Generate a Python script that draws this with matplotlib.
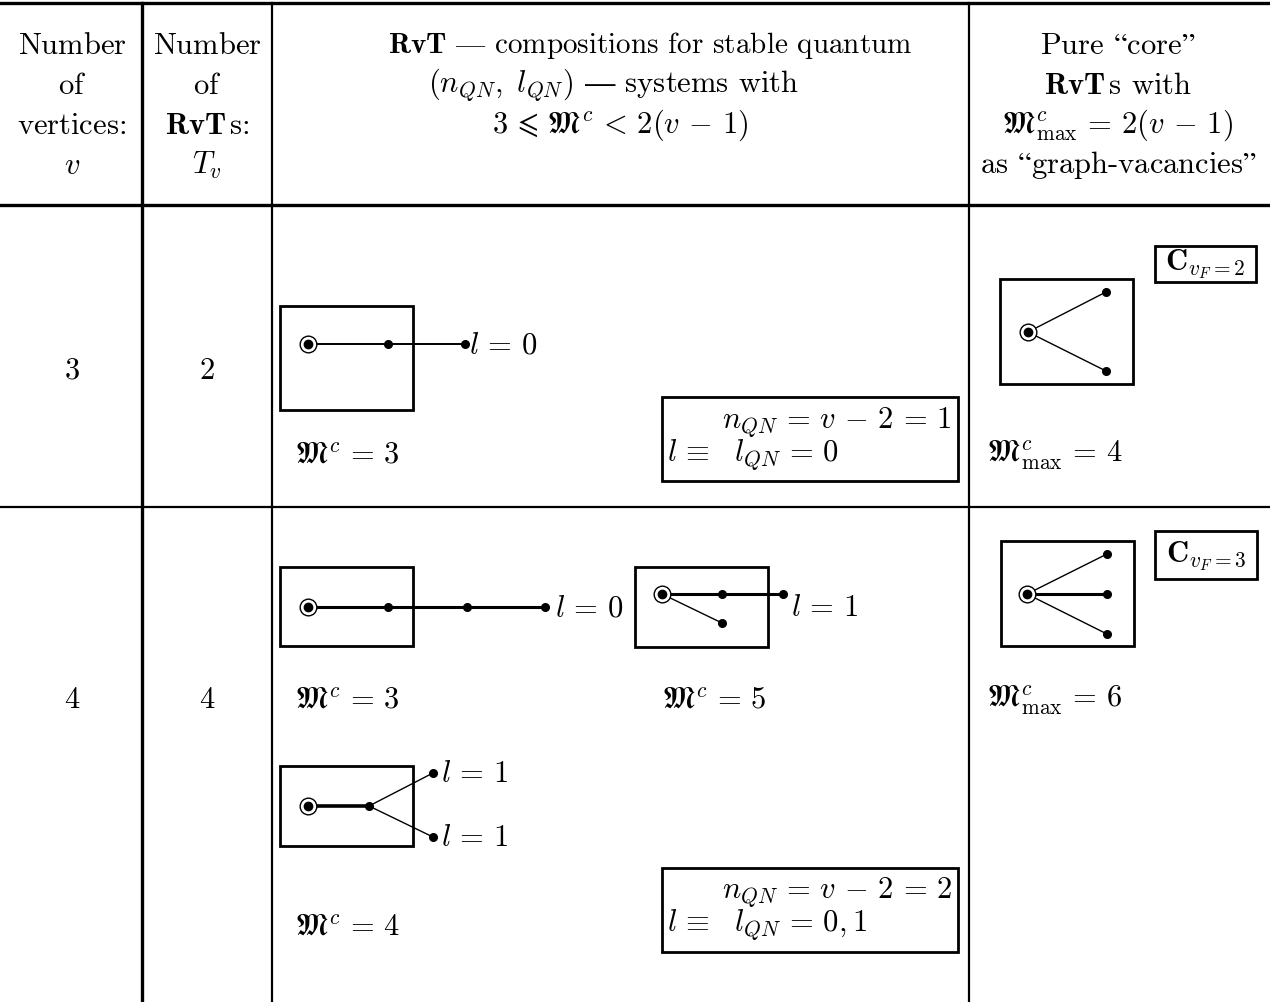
import matplotlib
matplotlib.use('Agg')
import matplotlib.pyplot as plt
from matplotlib.patches import Rectangle

plt.rcParams['mathtext.fontset'] = 'cm'

# table data
v_values = [3, 4]
tv_values = [2, 4]
mc_row3 = [3]
mc_row4 = [3, 5, 4]
mc_max = [4, 6]
n_qn = [1, 2]
l_qn = ['0', '0,1']
vf = [2, 3]

FS = 22
EQ = r'\,=\,'
MINUS = r'\,-\,'


def rm(s):
    return r'$\text{' + s + '}$'


def txt(x, y, s, ha='center', fs=FS):
    ax.text(x, y, s, ha=ha, va='center', fontsize=fs)


def box(x0, y0, x1, y1, lw=2.0):
    ax.add_patch(Rectangle((x0, y0), x1 - x0, y1 - y0, fill=False, lw=lw, ec='black'))


def edge(p, q, lw=1.0):
    ax.plot([p[0], q[0]], [p[1], q[1]], color='black', lw=lw, solid_capstyle='butt')


def dot(p):
    ax.plot(p[0], p[1], 'o', color='black', ms=5.5)


def root(p):
    ax.plot(p[0], p[1], 'o', mfc='white', mec='black', mew=1.0, ms=12)
    ax.plot(p[0], p[1], 'o', color='black', ms=6)


fig = plt.figure(figsize=(12.7, 10.03), dpi=100)
ax = fig.add_axes([0, 0, 1, 1])
ax.set_xlim(0, 1270)
ax.set_ylim(1003, 0)
ax.axis('off')

# table rules
ax.plot([0, 1270], [4, 4], color='black', lw=2.4)
ax.plot([0, 1270], [206, 206], color='black', lw=2.4)
ax.plot([0, 1270], [508, 508], color='black', lw=1.6)
ax.plot([142, 142], [4, 1003], color='black', lw=2.4)
ax.plot([272, 272], [4, 1003], color='black', lw=1.6)
ax.plot([969, 969], [4, 1003], color='black', lw=1.6)

# header
for i, s in enumerate([rm('Number'), rm('of'), rm('vertices:'), r'$v$']):
    txt(72, 45 + 40 * i, s)
for i, s in enumerate([rm('Number'), rm('of'), r'$\mathbf{RvT}\,\text{s:}$', r'$T_v$']):
    txt(207, 45 + 40 * i, s)
txt(650, 45, r'$\mathbf{RvT}\text{ — compositions for stable quantum}$', fs=21)
txt(613, 85, r'$(n_{QN},\ l_{QN})\text{ — systems with}$')
txt(620, 125, r'$3\,\leqslant\,\mathfrak{M}^c\,<\,2(v' + MINUS + '1)$')
txt(1118, 45, rm('Pure “core”'))
txt(1118, 85, r'$\mathbf{RvT}\,\text{s with}$')
txt(1118, 125, r'$\mathfrak{M}^c_{\mathrm{max}}' + EQ + r'2(v' + MINUS + '1)$')
txt(1118, 165, rm('as “graph-vacancies”'))

# row v = 3
txt(72, 370, r'$%d$' % v_values[0])
txt(207, 370, r'$%d$' % tv_values[0])
box(280, 307, 413, 411)
edge((308, 345), (465, 345), lw=1.4)
root((308, 345)); dot((388, 345)); dot((465, 345))
txt(469, 345, r'$l' + EQ + '0$', ha='left')
txt(295, 455, r'$\mathfrak{M}^c' + EQ + '%d$' % mc_row3[0], ha='left')
box(662, 398, 958, 482)
txt(952, 422, r'$n_{QN}' + EQ + r'v' + MINUS + '2' + EQ + '%d$' % n_qn[0], ha='right')
txt(667, 455, r'$l\,\equiv\,\;\;l_{QN}' + EQ + '%s$' % l_qn[0], ha='left')
box(1000, 280, 1133, 385)
edge((1028, 333), (1106, 293)); edge((1028, 333), (1106, 372))
root((1028, 333)); dot((1106, 293)); dot((1106, 372))
box(1155, 247, 1256, 283)
txt(1205, 264, r'$\mathbf{C}_{v_F=%d}$' % vf[0])
txt(987, 455, r'$\mathfrak{M}^c_{\mathrm{max}}' + EQ + '%d$' % mc_max[0], ha='left')

# row v = 4
txt(72, 700, r'$%d$' % v_values[1])
txt(207, 700, r'$%d$' % tv_values[1])
box(280, 568, 413, 647)
edge((308, 608), (545, 608), lw=2.2)
root((308, 608))
for x in (388, 467, 545):
    dot((x, 608))
txt(555, 608, r'$l' + EQ + '0$', ha='left')
box(635, 568, 768, 648)
edge((662, 595), (783, 595), lw=2.2)
edge((662, 595), (722, 624), lw=1.0)
root((662, 595)); dot((722, 595)); dot((783, 595)); dot((722, 624))
txt(791, 608, r'$l' + EQ + '1$', ha='left')
txt(295, 700, r'$\mathfrak{M}^c' + EQ + '%d$' % mc_row4[0], ha='left')
txt(662, 700, r'$\mathfrak{M}^c' + EQ + '%d$' % mc_row4[1], ha='left')
box(280, 767, 413, 847)
edge((308, 807), (369, 807), lw=2.6)
edge((369, 807), (433, 774)); edge((369, 807), (433, 838))
root((308, 807)); dot((369, 807)); dot((433, 774)); dot((433, 838))
txt(441, 774, r'$l' + EQ + '1$', ha='left')
txt(441, 838, r'$l' + EQ + '1$', ha='left')
txt(295, 927, r'$\mathfrak{M}^c' + EQ + '%d$' % mc_row4[2], ha='left')
box(662, 869, 958, 953)
txt(952, 892, r'$n_{QN}' + EQ + r'v' + MINUS + '2' + EQ + '%d$' % n_qn[1], ha='right')
txt(667, 925, r'$l\,\equiv\,\;\;l_{QN}' + EQ + '%s$' % l_qn[1], ha='left')
box(1001, 542, 1134, 647)
edge((1027, 595), (1107, 555)); edge((1027, 595), (1107, 595), lw=2.2)
edge((1027, 595), (1107, 635))
root((1027, 595))
for y in (555, 595, 635):
    dot((1107, y))
box(1155, 532, 1257, 580)
txt(1206, 556, r'$\mathbf{C}_{v_F=%d}$' % vf[1])
txt(987, 700, r'$\mathfrak{M}^c_{\mathrm{max}}' + EQ + '%d$' % mc_max[1], ha='left')

fig.savefig('out.png', dpi=100)
